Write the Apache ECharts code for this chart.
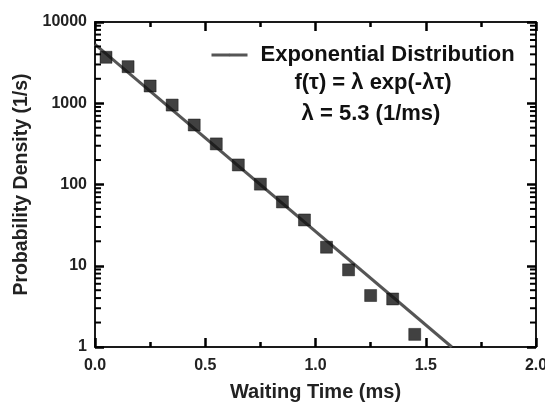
<!DOCTYPE html>
<html>
<head>
<meta charset="utf-8">
<script src="https://cdn.jsdelivr.net/npm/echarts@6/dist/echarts.min.js"></script>
<style>html,body{margin:0;padding:0;background:#fff}#c{width:545px;height:403px}</style>
</head>
<body>
<div id="c"></div>
<script>
var waitTime = [0.05, 0.15, 0.25, 0.35, 0.45, 0.55, 0.65, 0.75, 0.85, 0.95, 1.05, 1.15, 1.25, 1.35, 1.45];
var density = [3680, 2820, 1630, 950, 540, 316, 174, 101, 61, 36.6, 16.9, 8.9, 4.3, 3.9, 1.43];
var fitX = [0, 1.618];
var fitY = [5300, 1];
var xTicks = [0, 0.5, 1.0, 1.5, 2.0];
var yTicks = [1, 10, 100, 1000, 10000];

var font = 'Liberation Sans, Arial, Helvetica, sans-serif';
var axisCol = '#1a1a1a';
var chart = echarts.init(document.getElementById('c'));

function xAxisBase(pos, showLabel) {
  return {
    type: 'value', position: pos, min: xTicks[0], max: xTicks[xTicks.length - 1], interval: xTicks[1] - xTicks[0],
    axisLine: { show: true, onZero: false, lineStyle: { color: axisCol, width: 2 } },
    axisTick: { show: true, inside: true, length: 9, lineStyle: { color: '#000', width: 2.5 } },
    minorTick: { show: true, splitNumber: 2, length: 5, lineStyle: { color: '#000', width: 2.5 } },
    splitLine: { show: false },
    axisLabel: { show: showLabel, fontFamily: font, fontWeight: 'bold', fontSize: 16, color: '#222', margin: 11,
      formatter: function (v) { return v.toFixed(1); } }
  };
}
function yAxisBase(pos, showLabel) {
  return {
    type: 'log', logBase: 10, position: pos, min: yTicks[0], max: yTicks[yTicks.length - 1],
    axisLine: { show: true, onZero: false, lineStyle: { color: axisCol, width: 2 } },
    axisTick: { show: true, inside: true, length: 9, lineStyle: { color: '#000', width: 2.5 } },
    splitLine: { show: false },
    axisLabel: { show: showLabel, fontFamily: font, fontWeight: 'bold', fontSize: 16, color: '#222', margin: 8,
      formatter: function (v) { return String(v); } }
  };
}

var xb = xAxisBase('bottom', true);
xb.name = 'Waiting Time (ms)';
xb.nameLocation = 'middle';
xb.nameGap = 35;
xb.nameTextStyle = { fontFamily: font, fontWeight: 'bold', fontSize: 20, color: '#222' };
var yl = yAxisBase('left', true);
yl.name = 'Probability Density (1/s)';
yl.nameLocation = 'middle';
yl.nameGap = 60;
yl.nameTextStyle = { fontFamily: font, fontWeight: 'bold', fontSize: 19.5, color: '#222' };

var fitData = fitX.map(function (x, i) { return [x, fitY[i]]; });
var ptData = waitTime.map(function (x, i) { return [x, density[i]]; });

chart.setOption({
  animation: false,
  backgroundColor: '#fff',
  grid: { left: 95, right: 9, top: 22, bottom: 56, outerBoundsMode: 'none', containLabel: false },
  legend: {
    left: 210, top: 44, padding: 0, data: ['Exponential Distribution'],
    itemWidth: 36, itemHeight: 3, itemGap: 0,
    lineStyle: { width: 3 },
    textStyle: { fontFamily: font, fontWeight: 'bold', fontSize: 22, color: '#111', padding: [0, 0, 0, 8] }
  },
  xAxis: [xb, xAxisBase('top', false)],
  yAxis: [yl, yAxisBase('right', false)],
  series: [
    { name: 'Exponential Distribution', type: 'line', data: fitData, showSymbol: false, symbol: 'none',
      lineStyle: { color: '#555', width: 3 }, itemStyle: { color: '#555' }, z: 2 },
    { name: 'Data', type: 'scatter', data: ptData, symbol: 'rect', symbolSize: 12,
      itemStyle: { color: '#111', borderColor: '#000', borderWidth: 0.5 }, z: 3 }
  ]
});

// log minor ticks (2..9 per decade) on left and right axes, positioned through the axis scale
var g = [];
var xl = chart.convertToPixel({ xAxisIndex: 0 }, xTicks[0]);
var xr = chart.convertToPixel({ xAxisIndex: 0 }, xTicks[xTicks.length - 1]);
for (var d = 0; d < yTicks.length - 1; d++) {
  for (var m = 2; m <= 9; m++) {
    var py = chart.convertToPixel({ yAxisIndex: 0 }, yTicks[d] * m);
    g.push({ type: 'line', z: 5, shape: { x1: xl, y1: py, x2: xl + 6, y2: py }, style: { stroke: '#000', lineWidth: 2 } });
    g.push({ type: 'line', z: 5, shape: { x1: xr - 6, y1: py, x2: xr, y2: py }, style: { stroke: '#000', lineWidth: 2 } });
  }
}
g.push({ type: 'text', x: 373, y: 83, style: { text: 'f(\u03c4) = \u03bb exp(-\u03bb\u03c4)', font: 'bold 22px ' + font, fill: '#111', align: 'center', verticalAlign: 'middle' } });
g.push({ type: 'text', x: 371, y: 114, style: { text: '\u03bb = 5.3 (1/ms)', font: 'bold 22px ' + font, fill: '#111', align: 'center', verticalAlign: 'middle' } });
chart.setOption({ graphic: g });
</script>
</body>
</html>
